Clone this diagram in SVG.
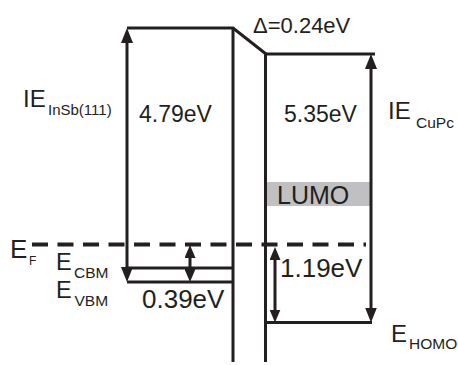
<svg xmlns="http://www.w3.org/2000/svg" width="458" height="365" viewBox="0 0 458 365">
<style>
  text { font-family: "Liberation Sans", Arial, sans-serif; fill: #231f20; }
  .ln { stroke: #231f20; stroke-width: 3; fill: none; }
  .dash { stroke: #231f20; stroke-width: 4; fill: none; stroke-dasharray: 16 9.5; }
</style>
<defs>
  <marker id="big" viewBox="0 0 15 12" refX="9" refY="6" markerWidth="15" markerHeight="12" markerUnits="userSpaceOnUse" orient="auto-start-reverse">
    <path d="M0,0 L15,6 L0,12 z" fill="#231f20"/>
  </marker>
  <marker id="small" viewBox="0 0 13 11" refX="7" refY="5.5" markerWidth="13" markerHeight="11" markerUnits="userSpaceOnUse" orient="auto-start-reverse">
    <path d="M0,0 L13,5.5 L0,11 z" fill="#231f20"/>
  </marker>
</defs>

<g id="lumo">
  <rect x="265" y="182" width="106" height="24" fill="#c0c0c2"/>
  <text x="277" y="204" font-size="25">LUMO</text>
</g>

<g id="insb">
  <path class="ln" d="M127,28 H233 L266,54"/>
  <line class="ln" x1="233" y1="27" x2="233" y2="362"/>
  <line class="ln" x1="127" y1="268" x2="233" y2="268"/>
  <line class="ln" x1="127" y1="282" x2="233" y2="282"/>
</g>

<g id="cupc">
  <line class="ln" x1="265.5" y1="54" x2="375" y2="54"/>
  <line class="ln" x1="265.5" y1="53" x2="265.5" y2="362"/>
  <line class="ln" x1="265" y1="322.5" x2="372" y2="322.5"/>
</g>

<g id="fermi">
  <line class="dash" x1="32" y1="244.5" x2="366" y2="244.5"/>
</g>

<g id="connectors">
  <line class="ln" x1="127" y1="34" x2="127" y2="276" marker-start="url(#big)" marker-end="url(#big)"/>
  <line class="ln" x1="371" y1="60" x2="371" y2="316.5" marker-start="url(#big)" marker-end="url(#big)"/>
  <line class="ln" x1="190" y1="251" x2="190" y2="276" marker-start="url(#small)" marker-end="url(#small)"/>
  <line class="ln" x1="275" y1="253" x2="275" y2="316.5" marker-start="url(#small)" marker-end="url(#small)"/>
</g>

<g id="labels">
  <text x="23" y="107" font-size="24">IE</text>
  <text x="48" y="115" font-size="15">InSb(111)</text>
  <text x="139" y="122" font-size="23">4.79eV</text>
  <text x="253" y="33" font-size="22">Δ=0.24eV</text>
  <text x="284" y="122" font-size="23">5.35eV</text>
  <text x="388" y="118.5" font-size="24">IE</text>
  <text x="416" y="128" font-size="15.5">CuPc</text>
  <text x="10" y="258" font-size="26">E</text>
  <text x="29" y="265" font-size="12">F</text>
  <text x="56" y="270" font-size="23.5">E</text>
  <text x="74" y="277.5" font-size="15.5">CBM</text>
  <text x="56" y="297.5" font-size="23.5">E</text>
  <text x="74.5" y="305.5" font-size="15.5">VBM</text>
  <text x="142" y="308" font-size="26">0.39eV</text>
  <text x="280" y="276.5" font-size="26">1.19eV</text>
  <text x="391" y="342" font-size="24">E</text>
  <text x="409" y="349" font-size="15.5">HOMO</text>
</g>
</svg>
